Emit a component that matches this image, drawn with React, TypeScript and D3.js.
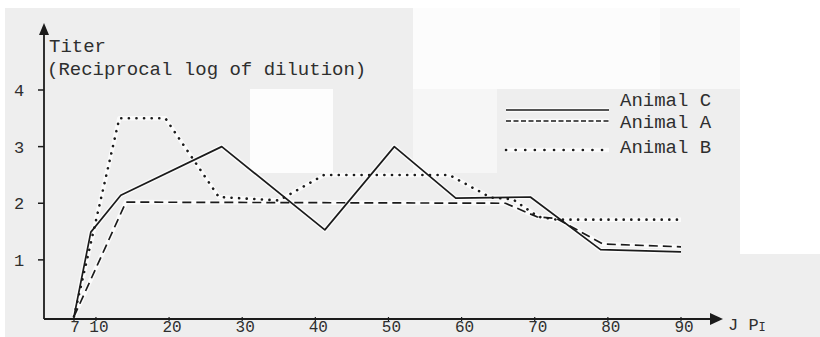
import React from "react";
import * as d3 from "d3";

// Days post infection and titers for each animal
const daysC = [7, 9.3, 13.4, 27.2, 41.3, 50.8, 59.2, 69.4, 79, 90];
const titerC = [0, 1.49, 2.14, 3.0, 1.53, 3.0, 2.09, 2.11, 1.18, 1.14];

const daysA = [7, 14.1, 66, 70.3, 73, 79.3, 90];
const titerA = [0, 2.02, 2.0, 1.76, 1.73, 1.28, 1.23];

const daysB = [7, 13.2, 19.5, 26.8, 35, 41.2, 58.3, 64, 67, 70.5, 73, 90];
const titerB = [0, 3.5, 3.5, 2.11, 2.05, 2.5, 2.5, 2.1, 2.07, 1.76, 1.71, 1.71];

const xTicks = [7, 10, 20, 30, 40, 50, 60, 70, 80, 90];
const yTicks = [1, 2, 3, 4];

const seriesNames = ["Animal C", "Animal A", "Animal B"];

const W = 820;
const H = 337;
const FONT = "'Liberation Mono', 'DejaVu Sans Mono', monospace";
const INK = "#1b1b1b";
const TEXT = "#2e2e2e";

export default function App() {
  const x = d3.scaleLinear().domain([7, 90]).range([74, 681]);
  const y = d3.scaleLinear().domain([0, 4]).range([316.5, 90]);
  const axisX = 44;
  const axisY = 319;

  const line = d3
    .line<[number, number]>()
    .x((d) => x(d[0]))
    .y((d) => y(d[1]));

  const pathC = line(daysC.map((d, i) => [d, titerC[i]]))!;
  const pathA = line(daysA.map((d, i) => [d, titerA[i]]))!;
  const pathB = line(daysB.map((d, i) => [d, titerB[i]]))!;

  const styles = [
    { dash: undefined as string | undefined, legendDash: undefined as string | undefined, width: 1.7, cap: "butt" },
    { dash: "9 5", legendDash: "5 2.5", width: 1.7, cap: "butt" },
    { dash: "0.1 7.5", legendDash: "0.1 9.5", width: 2.6, cap: "round" },
  ];
  const paths = [pathC, pathA, pathB];
  const legendY = [110, 121, 150];
  const legendTextY = [106, 128, 153];

  return (
    <svg
      width={W}
      height={H}
      style={{ position: "absolute", left: 0, top: 0, background: "#ffffff" }}
    >
      {/* paper tones */}
      <rect x={5} y={8} width={W - 5} height={H - 8} fill="#eeeeee" />
      <rect x={413} y={8} width={247} height={81} fill="#fcfcfc" />
      <rect x={660} y={8} width={80} height={81} fill="#f8f8f8" />
      <rect x={740} y={0} width={80} height={254} fill="#ffffff" />
      <rect x={250} y={89} width={83} height={84} fill="#fdfdfd" />
      <rect x={413} y={89} width={84} height={84} fill="#f6f6f6" />

      {/* axes */}
      <line x1={axisX} y1={axisY} x2={axisX} y2={33} stroke={INK} strokeWidth={1.8} />
      <path d={`M${axisX - 5},35 L${axisX},23 L${axisX + 5},35 Z`} fill={INK} />
      <line x1={axisX} y1={axisY} x2={712} y2={axisY} stroke={INK} strokeWidth={1.8} />
      <path d={`M710,${axisY - 6} L723,${axisY} L710,${axisY + 6} Z`} fill={INK} />

      {yTicks.map((t) => (
        <g key={"y" + t}>
          <line x1={axisX - 6} x2={axisX} y1={y(t)} y2={y(t)} stroke={INK} strokeWidth={1.5} />
          <text
            x={19}
            y={y(t) + 6}
            textAnchor="middle"
            fontFamily={FONT}
            fontSize={17}
            fill={TEXT}
          >
            {t}
          </text>
        </g>
      ))}

      {xTicks.map((t) => (
        <g key={"x" + t}>
          <line x1={x(t)} x2={x(t)} y1={axisY - 2} y2={axisY + 2} stroke={INK} strokeWidth={1.2} />
          <text
            x={x(t) + (t === 7 ? 1 : 3)}
            y={332}
            textAnchor="middle"
            fontFamily={FONT}
            fontSize={16}
            fill={TEXT}
          >
            {t}
          </text>
        </g>
      ))}

      <text x={728} y={330} fontFamily={FONT} fontSize={17} fill={TEXT}>
        J P
        <tspan fontSize={12} dy={1}>I</tspan>
      </text>

      {/* axis title */}
      <text x={49} y={52} fontFamily={FONT} fontSize={19} fill={TEXT}>
        Titer
      </text>
      <text x={47} y={75} fontFamily={FONT} fontSize={19} fill={TEXT}>
        (Reciprocal log of dilution)
      </text>

      {/* series */}
      {paths.map((p, i) => (
        <path
          key={"halo" + i}
          d={p}
          fill="none"
          stroke="#ffffff"
          strokeOpacity={0.75}
          strokeWidth={4.5}
          strokeLinejoin="round"
        />
      ))}
      {paths.map((p, i) => (
        <path
          key={"s" + i}
          d={p}
          fill="none"
          stroke={INK}
          strokeWidth={styles[i].width}
          strokeDasharray={styles[i].dash}
          strokeLinecap={styles[i].cap as any}
          strokeLinejoin="round"
        />
      ))}

      {/* legend */}
      {seriesNames.map((name, i) => (
        <g key={name}>
          <line
            x1={506}
            x2={609}
            y1={legendY[i]}
            y2={legendY[i]}
            stroke="#ffffff"
            strokeOpacity={0.75}
            strokeWidth={4.5}
          />
          <line
            x1={506}
            x2={609}
            y1={legendY[i]}
            y2={legendY[i]}
            stroke={INK}
            strokeWidth={styles[i].width}
            strokeDasharray={styles[i].legendDash}
            strokeLinecap={styles[i].cap as any}
          />
          <text x={620} y={legendTextY[i]} fontFamily={FONT} fontSize={19} fill={TEXT}>
            {name}
          </text>
        </g>
      ))}
    </svg>
  );
}
